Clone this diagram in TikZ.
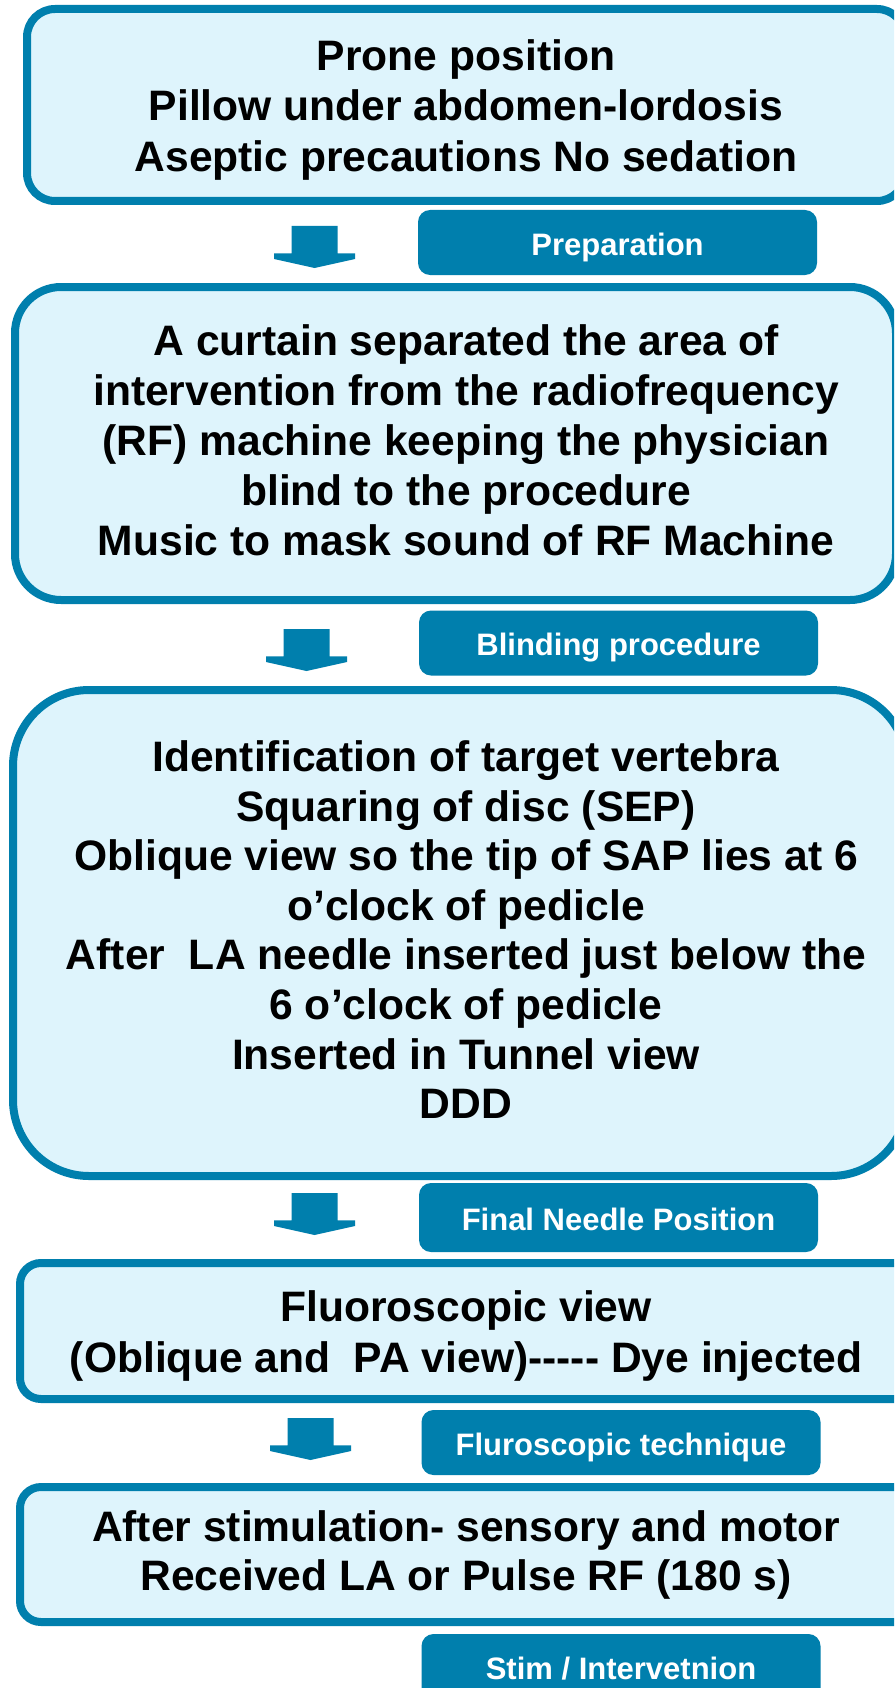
\documentclass[tikz,border=0pt]{standalone}
\usepackage{fontspec}
\newfontfamily\lsans{Liberation Sans}
\definecolor{bord}{RGB}{0,127,173}
\definecolor{fillc}{RGB}{222,244,252}
\tikzset{
  mainbox/.style={draw=bord, fill=fillc, line width=8pt},
  maintext/.style={align=center, inner sep=0pt, text=black,
    font=\lsans\bfseries\fontsize{42.6}{#1}\selectfont},
  maintext/.default=51,
  labelbox/.style={fill=bord, draw=none, rounded corners=12pt, inner sep=0pt,
    minimum width=399pt, minimum height=65pt, text=white,
    text height=25pt, text depth=0pt,
    font=\lsans\bfseries\fontsize{31}{36}\selectfont},
  blockarrow/.style={fill=bord, draw=none}
}
\newcommand\myblockarrow[2]{%
  \fill[blockarrow] ({#1-23},{#2}) -- ({#1+23},{#2}) -- ({#1+23},{#2+27.3})
    -- ({#1+40.5},{#2+27.3}) -- ({#1+40.5},{#2+33}) -- ({#1},{#2+42})
    -- ({#1-40.5},{#2+33}) -- ({#1-40.5},{#2+27.3}) -- ({#1-23},{#2+27.3}) -- cycle;}
\begin{document}
\begin{tikzpicture}[x=1pt,y=-1pt]
\useasboundingbox (0,0) rectangle (894,1688);
\clip (0,0) rectangle (894,1688);
\fill[white] (0,0) rectangle (894,1688);

% main boxes
\draw[mainbox, rounded corners=28pt] (27,9) rectangle (905,201);
\draw[mainbox, rounded corners=46pt] (15,287) rectangle (896,600);
\draw[mainbox, rounded corners=76pt] (13,690) rectangle (907,1176);
\draw[mainbox, rounded corners=21pt] (20,1263) rectangle (930,1399);
\draw[mainbox, rounded corners=21pt] (20,1487) rectangle (930,1622);

% texts
\node[maintext=50.5] (b1) at (466,110.9) {\strut Prone position\\\strut Pillow under abdomen-lordosis\\\strut Aseptic precautions No sedation};
\node[maintext=50] (b2) at (466,445.7) {\strut A curtain separated the area of\\\strut intervention from the radiofrequency\\\strut (RF) machine keeping the physician\\\strut blind to the procedure\\\strut Music to mask sound of RF Machine};
\node[maintext=49.6] (b3) at (466,935.1) {\strut Identification of target vertebra\\\strut Squaring of disc (SEP)\\\strut Oblique view so the tip of SAP lies at 6\\\strut o’clock of pedicle\\\strut After\ \ LA needle inserted just below the\\\strut 6 o’clock of pedicle\\\strut Inserted in Tunnel view\\\strut DDD};
\node[maintext=51] (b4) at (466,1337) {\strut Fluoroscopic view\\\strut (Oblique and\ \ PA view)-----\ Dye injected};
\node[maintext=49] (b5) at (466,1555.7) {\strut After stimulation- sensory and motor\\\strut Received LA or Pulse RF (180 s)};

% arrows
\myblockarrow{314.5}{226}
\myblockarrow{306.5}{629}
\myblockarrow{314.5}{1193}
\myblockarrow{310.5}{1418}

% labels
\node[labelbox] (l1) at (617.5,242.5) {Preparation};
\node[labelbox] (l2) at (618.5,643) {Blinding procedure};
\node[labelbox, minimum height=69pt] (l3) at (618.5,1217.5) {Final Needle Position};
\node[labelbox] (l4) at (621,1442.5) {Fluroscopic technique};
\node[labelbox, minimum height=66pt] (l5) at (621,1667) {Stim / Intervetnion};
\end{tikzpicture}
\end{document}
